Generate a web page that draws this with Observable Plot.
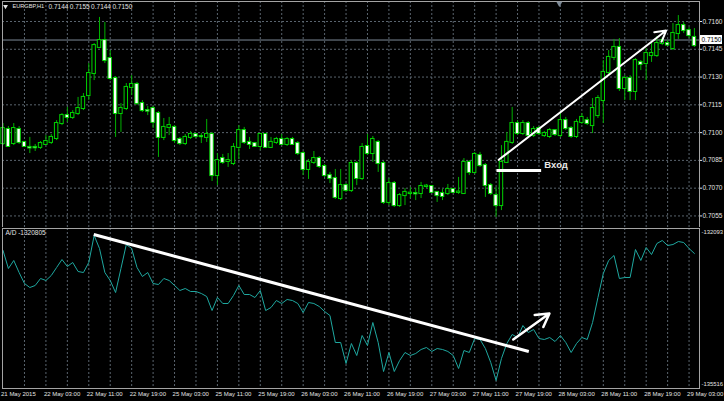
<!DOCTYPE html>
<html><head><meta charset="utf-8">
<script src="https://cdn.jsdelivr.net/npm/d3@7"></script>
<script src="https://cdn.jsdelivr.net/npm/@observablehq/plot@0.6"></script>
<style>
html,body{margin:0;padding:0;background:#000;}
#chart{position:relative;width:724px;height:401px;background:#000;overflow:hidden;}
#top,#bottom{position:absolute;left:0;}
#top{top:0px;}
#bottom{top:227px;}
</style></head>
<body><div id="chart"><div id="top"></div><div id="bottom"></div></div>
<script>
// ---- header / labels ----
const symbol = "EURGBP,H1";
const headerOHLC = ["0.7144", "0.7155", "0.7144", "0.7150"];
const adHeader = "A/D -1320805";
const timeLabels = ["21 May 2015","22 May 03:00","22 May 11:00","22 May 19:00","25 May 03:00","25 May 11:00","25 May 19:00","26 May 03:00","26 May 11:00","26 May 19:00","27 May 03:00","27 May 11:00","27 May 19:00","28 May 03:00","28 May 11:00","28 May 19:00","29 May 03:00"];
const labelBars = [0,8,16,24,32,40,48,56,64,72,80,88,96,104,112,120,128];
const gridBars = [4,8,12,16,20,24,28,32,36,40,44,48,52,56,60,64,68,72,76,80,84,88,92,96,100,104,108,112,116,120,124,128];
const priceTicks = [0.7055, 0.7070, 0.7085, 0.7100, 0.7115, 0.7130, 0.7145, 0.7160];
const bidPrice = 0.7150;
const adScaleLabels = ["-132093", "-135516"];
const adScaleValues = [-1320930, -1355160];
const shiftBar = 103.8;

// ---- H1 candles (bar index 0 = 21 May 19:00) ----
const open = [0.70941,0.71017,0.70941,0.71017,0.70947,0.70920,0.70920,0.70920,0.70936,0.70947,
0.70968,0.71049,0.71092,0.71082,0.71103,0.71130,0.71200,0.71319,0.71460,0.71497,
0.71400,0.71292,0.71103,0.71130,0.71244,0.71260,0.71157,0.71119,0.71130,0.71103,
0.70974,0.71028,0.71028,0.70963,0.70941,0.70974,0.70990,0.70979,0.70974,0.70990,
0.70768,0.70860,0.70844,0.70833,0.70920,0.71011,0.70947,0.70941,0.70925,0.70990,
0.70920,0.70947,0.70963,0.70936,0.70963,0.70941,0.70887,0.70801,0.70839,0.70860,
0.70817,0.70768,0.70752,0.70644,0.70714,0.70687,0.70833,0.70752,0.70925,0.70887,
0.70947,0.70833,0.70623,0.70725,0.70606,0.70660,0.70671,0.70671,0.70671,0.70709,
0.70709,0.70677,0.70671,0.70671,0.70693,0.70677,0.70671,0.70839,0.70785,0.70876,
0.70822,0.70714,0.70660,0.70606,0.70839,0.70947,0.71049,0.70995,0.71049,0.70984,
0.71022,0.70984,0.70979,0.71011,0.70984,0.71065,0.71022,0.70979,0.71055,0.71065,
0.71038,0.71092,0.71173,0.71325,0.71406,0.71460,0.71238,0.71292,0.71222,0.71379,
0.71373,0.71416,0.71416,0.71481,0.71481,0.71454,0.71535,0.71578,0.71551,0.71514];
const high = [0.71049,0.71033,0.71049,0.71033,0.70952,0.70974,0.70936,0.70952,0.70984,0.70990,
0.71065,0.71103,0.71136,0.71119,0.71190,0.71211,0.71373,0.71481,0.71622,0.71595,
0.71443,0.71303,0.71157,0.71265,0.71308,0.71271,0.71173,0.71141,0.71141,0.71114,
0.71076,0.71082,0.71038,0.70974,0.70990,0.71006,0.70995,0.70995,0.71071,0.71001,
0.70887,0.70882,0.70887,0.70941,0.71038,0.71028,0.70974,0.70947,0.70995,0.70995,
0.70974,0.70974,0.70990,0.70974,0.70974,0.70952,0.70898,0.70855,0.70898,0.70871,
0.70828,0.70785,0.70801,0.70801,0.70725,0.70849,0.70844,0.70941,0.70990,0.70979,
0.70957,0.70844,0.70752,0.70736,0.70671,0.70698,0.70704,0.70698,0.70731,0.70720,
0.70714,0.70682,0.70693,0.70720,0.70698,0.70758,0.70860,0.70849,0.70893,0.70893,
0.70833,0.70725,0.70704,0.70930,0.71001,0.71136,0.71065,0.71065,0.71060,0.71033,
0.71033,0.71006,0.71022,0.71017,0.71103,0.71082,0.71033,0.71071,0.71103,0.71082,
0.71184,0.71200,0.71389,0.71443,0.71503,0.71508,0.71308,0.71308,0.71400,0.71389,
0.71454,0.71481,0.71519,0.71514,0.71497,0.71589,0.71632,0.71595,0.71568,0.71562];
const low = [0.70930,0.70920,0.70930,0.70936,0.70920,0.70887,0.70898,0.70909,0.70930,0.70936,
0.70957,0.71038,0.71055,0.71071,0.71092,0.71119,0.71173,0.71281,0.71454,0.71373,
0.71281,0.70974,0.71001,0.71119,0.71200,0.71146,0.71109,0.71092,0.71022,0.70866,
0.70957,0.70984,0.70941,0.70930,0.70930,0.70963,0.70968,0.70941,0.70947,0.70736,
0.70714,0.70828,0.70812,0.70822,0.70855,0.70936,0.70909,0.70920,0.70903,0.70914,
0.70914,0.70936,0.70930,0.70925,0.70930,0.70876,0.70768,0.70747,0.70828,0.70806,
0.70758,0.70725,0.70639,0.70633,0.70677,0.70677,0.70714,0.70741,0.70876,0.70839,
0.70785,0.70612,0.70606,0.70596,0.70596,0.70606,0.70644,0.70633,0.70644,0.70698,
0.70671,0.70623,0.70633,0.70660,0.70671,0.70666,0.70666,0.70768,0.70774,0.70812,
0.70650,0.70660,0.70542,0.70579,0.70833,0.70936,0.70984,0.70984,0.70974,0.70974,
0.70984,0.70974,0.70968,0.70979,0.70974,0.71011,0.70968,0.70968,0.71044,0.71038,
0.70995,0.71076,0.71049,0.71308,0.71389,0.71222,0.71173,0.71173,0.71173,0.71335,
0.71281,0.71379,0.71406,0.71470,0.71465,0.71443,0.71503,0.71535,0.71508,0.71460];
const close = [0.71022,0.70925,0.71022,0.70947,0.70925,0.70917,0.70918,0.70941,0.70952,0.70974,
0.71049,0.71092,0.71082,0.71103,0.71130,0.71190,0.71319,0.71470,0.71497,0.71389,
0.71292,0.71103,0.71130,0.71244,0.71260,0.71157,0.71119,0.71116,0.71055,0.70974,
0.71028,0.71038,0.70957,0.70941,0.70974,0.70990,0.70979,0.70978,0.70990,0.70768,
0.70849,0.70839,0.70849,0.70920,0.71011,0.70947,0.70936,0.70925,0.70990,0.70920,
0.70947,0.70963,0.70936,0.70963,0.70936,0.70887,0.70801,0.70839,0.70860,0.70817,
0.70768,0.70752,0.70650,0.70714,0.70687,0.70833,0.70752,0.70920,0.70887,0.70963,
0.70833,0.70623,0.70725,0.70606,0.70660,0.70677,0.70673,0.70669,0.70709,0.70711,
0.70677,0.70660,0.70655,0.70693,0.70677,0.70679,0.70839,0.70785,0.70882,0.70822,
0.70714,0.70671,0.70606,0.70839,0.70947,0.71049,0.70995,0.71049,0.70984,0.71017,
0.70995,0.70995,0.71011,0.70990,0.71065,0.71022,0.70979,0.71055,0.71082,0.71049,
0.71130,0.71184,0.71325,0.71406,0.71460,0.71238,0.71292,0.71222,0.71389,0.71368,
0.71427,0.71427,0.71481,0.71497,0.71473,0.71535,0.71578,0.71551,0.71524,0.71470];

// ---- Accumulation/Distribution ----
const adValues = [-1324470,-1328720,-1326830,-1329670,-1332260,-1333210,-1332730,-1331080,-1331550,-1330370,
-1328480,-1326600,-1328250,-1327300,-1329430,-1329670,-1327300,-1320930,-1324000,-1329670,
-1331550,-1334390,-1328720,-1323060,-1324000,-1328480,-1330610,-1329670,-1332260,-1332500,
-1331080,-1331550,-1332730,-1333910,-1333440,-1334150,-1334150,-1334620,-1335330,-1338640,
-1335570,-1336980,-1336980,-1335090,-1332730,-1334860,-1334860,-1335570,-1333910,-1338640,
-1337930,-1336280,-1336980,-1336040,-1336280,-1336980,-1339110,-1336750,-1336980,-1337690,
-1338870,-1339820,-1346190,-1346190,-1351150,-1346430,-1349260,-1344540,-1346900,-1341470,
-1346190,-1353040,-1348550,-1353040,-1350440,-1348550,-1349260,-1348790,-1347840,-1347370,
-1348310,-1347610,-1347840,-1348310,-1349260,-1352330,-1348080,-1348550,-1345250,-1345480,
-1347610,-1350910,-1355160,-1349970,-1346430,-1344300,-1345010,-1342180,-1343830,-1343120,
-1345250,-1345480,-1345010,-1345950,-1344540,-1346190,-1348550,-1346430,-1345010,-1345480,
-1341470,-1335570,-1329900,-1326830,-1325650,-1331080,-1330850,-1330850,-1324240,-1326830,
-1323760,-1325420,-1322820,-1322110,-1323290,-1323060,-1322350,-1322580,-1324000,-1325180];

// ---- drawn annotations (bar index, value) ----
const upArrow = {x1: 92.49, y1: 0.70853, x2: 123.73, y2: 0.71551};
const entryLine = {x1: 92.07, x2: 100.4, y: 0.70795};
const entryLabel = {x: 101.0, y: 0.70828, text: "Вход"};
const adTrend = {x1: 16.93, y1: -1320694, x2: 98.1, y2: -1348314};
const adArrow = {x1: 95.2, y1: -1345481, x2: 101.95, y2: -1339343};

// ---- styles ----
const fg = "#e2e2e2";
const gridColor = "#5a646e";
const frameColor = "#a4a4a4";
const bidColor = "#7d8a97";
const bodyStroke = "#00d400";
const wickColor = "#00b000";
const adColor = "#1fa8a0";
const fontFamily = "'Liberation Sans', Arial, sans-serif";
const baseStyle = {background: "#000", color: fg, fontFamily, fontSize: "6.5px", overflow: "visible"};
const xDomain = [-0.1, 129.95];

const bars = open.map((o, i) => ({i, o, h: high[i], l: low[i], c: close[i]}));
const ad = adValues.map((v, i) => ({i, v}));
const ohlcItems = headerOHLC.map((t, k) => ({t, k}));

const bidBox = (index, scales, values, dims) => {
  const y = scales.y(bidPrice);
  const x0 = dims.width - dims.marginRight + 1;
  const g = document.createElementNS("http://www.w3.org/2000/svg", "g");
  g.innerHTML = `<rect x="${x0}" y="${y - 4.5}" width="22" height="9" fill="#ffffff"></rect>` +
    `<text x="${x0 + 1.5}" y="${y}" dy="0.35em" text-anchor="start" fill="#000" font-size="6.5">${bidPrice.toFixed(4)}</text>`;
  return g;
};

const topChart = Plot.plot({
  width: 724, height: 228,
  marginLeft: 2, marginRight: 25, marginTop: 1, marginBottom: 1,
  style: baseStyle,
  x: {type: "linear", domain: xDomain, axis: null},
  y: {type: "linear", domain: [0.704876, 0.71708], axis: null},
  marks: [
    Plot.ruleY(priceTicks, {stroke: gridColor, strokeDasharray: "2,2"}),
    Plot.ruleX(gridBars, {stroke: gridColor, strokeDasharray: "2,2"}),
    Plot.ruleY([bidPrice], {stroke: bidColor}),
    Plot.ruleX(bars, {x: "i", y1: "l", y2: "h", stroke: wickColor}),
    Plot.rect(bars.filter(d => d.c >= d.o), {x1: d => d.i - 0.32, x2: d => d.i + 0.32, y1: "o", y2: "c",
      fill: "#000", stroke: bodyStroke, insetTop: -0.5, insetBottom: -0.5}),
    Plot.rect(bars.filter(d => d.c < d.o), {x1: d => d.i - 0.32, x2: d => d.i + 0.32, y1: "o", y2: "c",
      fill: "#fff", stroke: bodyStroke, insetTop: -0.5, insetBottom: -0.5}),
    Plot.link([entryLine], {x1: "x1", x2: "x2", y1: "y", y2: "y", stroke: "#fff", strokeWidth: 3}),
    Plot.arrow([upArrow], {x1: "x1", y1: "y1", x2: "x2", y2: "y2", stroke: "#fff", strokeWidth: 2, headLength: 9}),
    Plot.text([entryLabel], {x: "x", y: "y", text: "text", textAnchor: "start", fontWeight: "bold", fontSize: 9.5, fill: "#e8e8e8"}),
    Plot.frame({stroke: frameColor}),
    Plot.axisY({anchor: "right", ticks: priceTicks, tickFormat: d => d.toFixed(4), tickSize: 2, tickPadding: 1}),
    bidBox,
    Plot.dot([shiftBar], {x: d => d, frameAnchor: "top", dy: 2, symbol: "triangle", rotate: 180, r: 2.2, fill: bidColor}),
    Plot.dot([symbol], {frameAnchor: "top-left", dx: 3, dy: 5, symbol: "triangle", rotate: 180, r: 1.8, fill: fg}),
    Plot.text([symbol], {frameAnchor: "top-left", dx: 10, dy: 5, textAnchor: "start", lineAnchor: "middle", fontSize: 5.6, fill: fg}),
    ...ohlcItems.map(o => Plot.text([o.t], {frameAnchor: "top-left", dx: 46 + o.k * 21.3, dy: 5, textAnchor: "start", lineAnchor: "middle", fill: fg}))
  ]
});
document.getElementById("top").appendChild(topChart);

const bottomChart = Plot.plot({
  width: 724, height: 174,
  marginLeft: 2, marginRight: 25, marginTop: 1, marginBottom: 13,
  style: baseStyle,
  x: {type: "linear", domain: xDomain, axis: null},
  y: {type: "linear", domain: [-1357049, -1319277], axis: null},
  marks: [
    Plot.ruleX(gridBars, {stroke: gridColor, strokeDasharray: "2,2"}),
    Plot.line(ad, {x: "i", y: "v", stroke: adColor, strokeWidth: 1}),
    Plot.link([adTrend], {x1: "x1", y1: "y1", x2: "x2", y2: "y2", stroke: "#fff", strokeWidth: 3}),
    Plot.arrow([adArrow], {x1: "x1", y1: "y1", x2: "x2", y2: "y2", stroke: "#fff", strokeWidth: 2.5, headLength: 9}),
    Plot.frame({stroke: frameColor}),
    Plot.axisX({anchor: "bottom", ticks: labelBars, tickFormat: d => timeLabels[labelBars.indexOf(d)],
      tickSize: 0, tickPadding: 3, textAnchor: "start", dx: -2, fontSize: 6}),
    Plot.text([adHeader], {frameAnchor: "top-left", dx: 3, dy: 4, textAnchor: "start", lineAnchor: "middle", fill: fg}),
    Plot.text([adScaleValues[0]], {y: d => d, text: () => adScaleLabels[0], frameAnchor: "right", dx: 2, dy: -3, textAnchor: "start", lineAnchor: "middle", fontSize: 5.9, fill: fg}),
    Plot.text([adScaleValues[1]], {y: d => d, text: () => adScaleLabels[1], frameAnchor: "right", dx: 2, dy: 4, textAnchor: "start", lineAnchor: "middle", fontSize: 5.9, fill: fg})
  ]
});
document.getElementById("bottom").appendChild(bottomChart);
</script>
</body></html>
